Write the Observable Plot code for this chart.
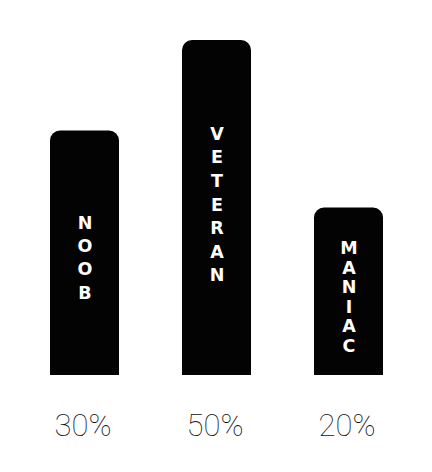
<!DOCTYPE html>
<html>
<head>
<meta charset="utf-8">
<script src="https://cdn.jsdelivr.net/npm/d3@7"></script>
<script src="https://cdn.jsdelivr.net/npm/@observablehq/plot@0.6"></script>
<style>
  html, body { margin: 0; padding: 0; background: #fff; }
</style>
</head>
<body>
<div id="chart"></div>
<script>
const categories = ["NOOB", "VETERAN", "MANIAC"];
const shares = [30, 50, 20];
const barLengths = [73, 100, 50];

const data = categories.map((c, i) => ({category: c, share: shares[i], length: barLengths[i]}));

const labelSpacing = {NOOB: 1.34, VETERAN: 1.35, MANIAC: 1.12};
const labelShift = {NOOB: 3, VETERAN: -5, MANIAC: 5};

const chart = Plot.plot({
  width: 432,
  height: 472,
  marginTop: 40,
  marginBottom: 97,
  marginLeft: 10,
  marginRight: 10,
  x: {domain: categories, paddingInner: 0.48, paddingOuter: 0.3},
  y: {domain: [0, 100], axis: null},
  marks: [
    Plot.barY(data, {x: "category", y: "length", fill: "#030303", rx: 10}),
    Plot.barY(data, {x: "category", y: d => d.length / 2, fill: "#030303"}),
    ...categories.map(c => Plot.text(data.filter(d => d.category === c), {
      x: "category",
      y: d => d.length / 2,
      text: d => d.category.split("").join("\n"),
      fill: "white",
      fontSize: 17.5,
      fontWeight: "bold",
      fontFamily: "DejaVu Sans, sans-serif",
      lineHeight: labelSpacing[c],
      dy: labelShift[c]
    })),
    Plot.axisX({
      tickFormat: c => shares[categories.indexOf(c)] + "%",
      tickSize: 0,
      tickPadding: 38,
      fontSize: 31,
      fontFamily: "Roboto, sans-serif",
      fontWeight: 100,
      fill: "#111",
      dx: -2,
      label: null
    })
  ]
});
document.getElementById("chart").append(chart);
</script>
</body>
</html>
